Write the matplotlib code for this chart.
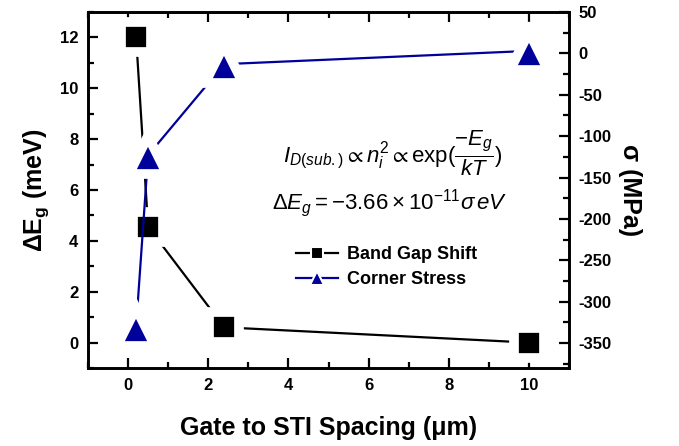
import matplotlib
matplotlib.use("Agg")
import matplotlib.pyplot as plt
from matplotlib.ticker import MultipleLocator
from matplotlib.lines import Line2D

plt.rcParams['font.family'] = ['Liberation Sans', 'DejaVu Sans']
plt.rcParams['mathtext.fontset'] = 'custom'
plt.rcParams['mathtext.rm'] = 'Liberation Sans'
plt.rcParams['mathtext.it'] = 'Liberation Sans:italic'
plt.rcParams['mathtext.bf'] = 'Liberation Sans:bold'
plt.rcParams['mathtext.sf'] = 'Liberation Sans'
plt.rcParams['mathtext.fallback'] = 'stixsans'
plt.rcParams['axes.unicode_minus'] = False

# Data
spacing = [0.2, 0.5, 2.4, 10]
band_gap_shift = [12.0, 4.55, 0.6, 0.0]
corner_stress = [-330, -123, -13, 3]

xlabel = "Gate to STI Spacing (\u03bcm)"
ylabel_left = "$\\mathbf{\\Delta E_g}$ (meV)"
ylabel_right = "\u03c3 (MPa)"
legend_labels = ["Band Gap Shift", "Corner Stress"]

blue = '#00009A'

fig = plt.figure(figsize=(6.79, 4.46), dpi=100)
ax = fig.add_axes([88/679, 1-368/446, (569-88)/679, (368-12)/446])
ax2 = ax.twinx()

ms_sq = 15
ms_tri = 20
mew = 7
l1, = ax.plot(spacing, band_gap_shift, '-', color='black', lw=1.6,
              marker='s', ms=ms_sq + mew, mfc='black', mec='white', mew=mew,
              zorder=3)
l2, = ax2.plot(spacing, corner_stress, '-', color=blue, lw=1.6,
               marker='^', ms=ms_tri + mew, mfc=blue, mec='white', mew=mew,
               zorder=3)

ax.set_xlim(-1, 11)
ax.set_ylim(-1, 13)
ax2.set_ylim(-380, 50)

ax.xaxis.set_major_locator(MultipleLocator(2))
ax.xaxis.set_minor_locator(MultipleLocator(1))
ax.yaxis.set_major_locator(MultipleLocator(2))
ax.yaxis.set_minor_locator(MultipleLocator(1))
ax2.yaxis.set_major_locator(MultipleLocator(50))
ax2.yaxis.set_minor_locator(MultipleLocator(25))

for a in (ax, ax2):
    for s in a.spines.values():
        s.set_linewidth(1.9)

ax.tick_params(which='both', direction='in', top=True, right=False, width=1.6,
               labelsize=12, pad=7)
ax.tick_params(which='major', length=7)
ax.tick_params(which='minor', length=4)
ax2.tick_params(which='both', direction='in', width=1.6, labelsize=12, pad=7)
ax2.tick_params(which='major', length=7)
ax2.tick_params(which='minor', length=4)
for lab in ax.get_xticklabels() + ax.get_yticklabels() + ax2.get_yticklabels():
    lab.set_fontweight('bold')

ax.set_xlabel(xlabel, fontsize=18, fontweight='bold', labelpad=17)
ax.set_ylabel(ylabel_left, fontsize=18, fontweight='bold', labelpad=6)
ax2.set_ylabel(ylabel_right, fontsize=18, fontweight='bold', rotation=270, labelpad=22)

fig.text(393/679, 1-153/446,
         r"$I_{D(sub.)}\propto n_i^2\propto \mathrm{exp}(\dfrac{-E_g}{kT})$",
         ha='center', va='center', fontsize=16)
fig.text(390/679, 1-203/446,
         r"$\Delta E_g = -\mathrm{3.66}\times\mathrm{10}^{-11}\sigma\, eV$",
         ha='center', va='center', fontsize=16)

h1 = Line2D([], [], color='black', lw=1.6, marker='s', ms=9, mfc='black',
            mec='white', mew=1.5)
h2 = Line2D([], [], color=blue, lw=1.6, marker='^', ms=10, mfc=blue,
            mec='white', mew=1.5)
fig.legend(handles=[h1, h2], labels=legend_labels, loc='center left',
           bbox_to_anchor=(296/679, 1-267/446), frameon=False,
           prop={'weight': 'bold', 'size': 13}, handlelength=2.3,
           handletextpad=0.5, borderpad=0, borderaxespad=0, labelspacing=0.45)

fig.savefig("out.png", dpi=100)
